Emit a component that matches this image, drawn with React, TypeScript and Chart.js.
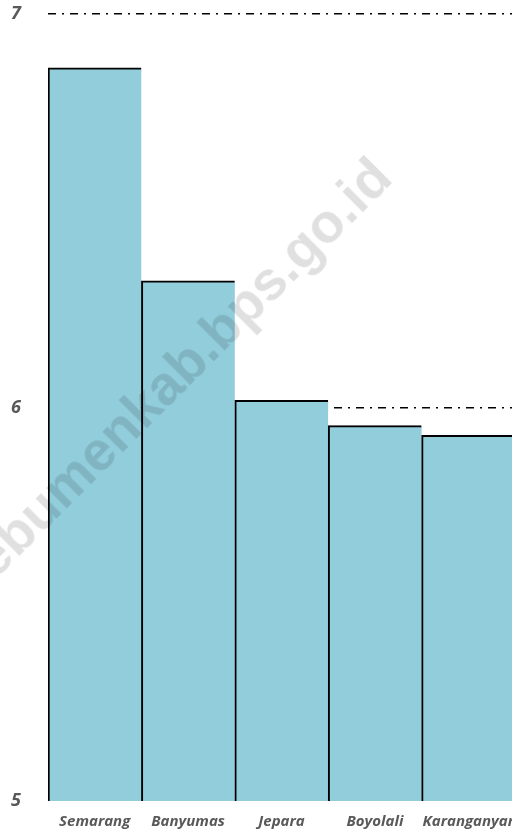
import React, { useEffect, useRef } from "react";
import { Chart, registerables } from "chart.js";

Chart.register(...registerables);

const categories = ["Semarang", "Banyumas", "Jepara", "Boyolali", "Karanganyar"];
const values = [6.863, 6.322, 6.018, 5.954, 5.929];
const yMin = 5;
const yMax = 7;
const yStep = 1;
const watermark = "kebumenkab.bps.go.id";

export default function App() {
  const ref = useRef<HTMLCanvasElement | null>(null);

  useEffect(() => {
    if (!ref.current) return;
    const chart = new Chart(ref.current, {
      type: "bar",
      data: {
        labels: categories,
        datasets: [
          {
            data: values,
            backgroundColor: "#92CDDC",
            borderColor: "#000000",
            borderWidth: { top: 2, left: 2, bottom: 2, right: 0 },
            borderSkipped: false,
            barPercentage: 1,
            categoryPercentage: 1,
          },
        ],
      },
      options: {
        animation: false,
        responsive: false,
        maintainAspectRatio: false,
        layout: { padding: { top: 14, right: 1, bottom: 0, left: 0 } },
        plugins: { legend: { display: false }, tooltip: { enabled: false } },
        scales: {
          x: {
            grid: { display: false, drawTicks: false },
            border: { display: false },
            ticks: {
              color: "#595959",
              padding: 12,
              maxRotation: 0,
              autoSkip: false,
              font: { family: "'Open Sans'", size: 15, weight: "bold", style: "italic" },
            },
            afterFit: (s: any) => {
              s.height = 32;
              s.paddingLeft = 0;
              s.paddingRight = 0;
            },
          },
          y: {
            min: yMin,
            max: yMax,
            ticks: {
              stepSize: yStep,
              color: "#595959",
              padding: 27,
              font: { family: "'Open Sans'", size: 18, weight: "bold", style: "italic" },
            },
            grid: {
              drawTicks: false,
              color: (c: any) => (c.tick && c.tick.value === yMin ? "rgba(0,0,0,0)" : "#000000"),
              lineWidth: 1.5,
            },
            border: { display: false, dash: [8, 6, 2, 6] },
            afterFit: (s: any) => {
              s.width = 48;
              s.paddingTop = 0;
              s.paddingBottom = 0;
            },
          },
        },
      },
    });
    return () => chart.destroy();
  }, []);

  return (
    <div
      style={{
        position: "fixed",
        left: 0,
        top: 0,
        width: 512,
        height: 833,
        overflow: "hidden",
        background: "#ffffff",
      }}
    >
      <canvas ref={ref} width={516} height={833} style={{ display: "block" }} />
      <div
        style={{
          position: "absolute",
          left: 171,
          top: 378,
          transform: "translate(-50%, -50%) rotate(-45deg)",
          whiteSpace: "nowrap",
          fontFamily: "'Liberation Sans', Arial, sans-serif",
          fontWeight: "bold",
          fontSize: 55,
          color: "rgba(0,0,0,0.12)",
          pointerEvents: "none",
          lineHeight: 1,
        }}
      >
        {watermark}
      </div>
    </div>
  );
}
